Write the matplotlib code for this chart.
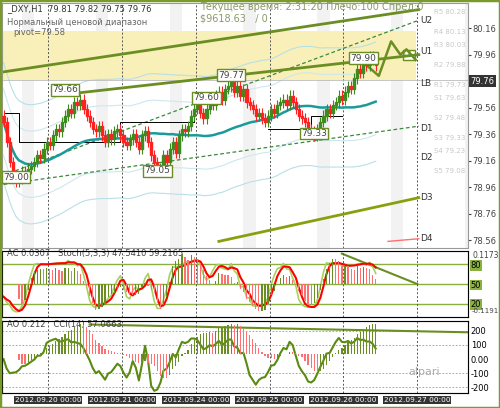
import numpy as np, pandas as pd
import matplotlib
matplotlib.use("Agg")
import matplotlib.pyplot as plt
from matplotlib.patches import Rectangle

closes = [79.45,79.30,79.15,79.05,79.00,79.02,79.08,79.05,79.10,79.12,
          79.15,79.20,79.18,79.25,79.30,79.28,79.35,79.40,79.38,79.45,
          79.50,79.55,79.52,79.60,79.58,79.62,79.55,79.50,79.45,79.40,
          79.38,79.42,79.35,79.30,79.36,79.32,79.38,79.40,79.35,79.30,
          79.28,79.32,79.36,79.30,79.25,79.35,79.38,79.30,79.20,79.15,
          79.08,79.10,79.20,79.15,79.25,79.30,79.22,79.35,79.40,79.38,
          79.42,79.50,79.55,79.58,79.52,79.48,79.55,79.60,79.58,79.65,
          79.68,79.62,79.70,79.72,79.75,79.68,79.72,79.65,79.70,79.60,
          79.58,79.55,79.50,79.52,79.48,79.45,79.50,79.55,79.52,79.58,
          79.60,79.62,79.58,79.65,79.60,79.55,79.50,79.48,79.45,79.40,
          79.38,79.35,79.40,79.45,79.50,79.55,79.52,79.58,79.60,79.65,
          79.62,79.68,79.72,79.70,79.78,79.85,79.82,79.90,79.88,79.95,79.92,79.88]
open0 = 79.50
day_ticks = [14.5, 38.5, 62.5, 86.5, 110.5, 134.5]
day_labels = ["2012.09.20 00:00","2012.09.21 00:00","2012.09.24 00:00",
              "2012.09.25 00:00","2012.09.26 00:00","2012.09.27 00:00"]
price_ticks = [80.16,79.96,79.76,79.56,79.36,79.16,78.96,78.76,78.56]
pivots = [("R5",80.28),("R4",80.13),("R3",80.03),("R2",79.88),("R1",79.73),
          ("S1",79.63),("S2",79.48),("S3",79.33),("S4",79.23),("S5",79.08)]
levels = [("U2",80.22),("U1",79.98),("LB",79.74),("D1",79.40),("D2",79.18),("D3",78.88),("D4",78.57)]
peaks = [(20,79.66,"79.66"),(4,79.00,"79.00"),(50,79.05,"79.05"),(66,79.60,"79.60"),
         (74,79.77,"79.77"),(101,79.33,"79.33"),(117,79.90,"79.90")]

c = np.array(closes); n = len(c); x = np.arange(n)
o = np.concatenate([[open0], c[:-1]])
wick = 0.04
h = np.maximum(o, c) + wick; l = np.minimum(o, c) - wick
s = pd.Series(c)
OLIVE = "#6b8e23"

fig = plt.figure(figsize=(5, 4.08), dpi=100)
fig.patch.set_facecolor("white")
fig.add_artist(Rectangle((0,0),1,1,transform=fig.transFigure,fill=False,ec="#7a9a2a",lw=2.5))
def ax_px(x0, y0, x1, y1):
    return fig.add_axes([x0/500, 1-y1/408, (x1-x0)/500, (y1-y0)/408])
XL = (-0.5, 151)
ax = ax_px(2, 3, 468, 248)
ax.set_xlim(*XL); ax.set_ylim(78.50, 80.35)
for k in range(0, 151, 24):
    ax.axvspan(k+6, k+10, color="#f2f2f2", zorder=0, lw=0)
ax.axhspan(79.77, 80.14, xmin=0, xmax=134.5/151.5, color="#f8f0b8", zorder=0.5, lw=0)
ax.axhline(79.77, color="#bbbbbb", lw=0.6)
ma = s.rolling(40, min_periods=1).mean()
ax.plot(x, ma, color="#1a9a9a", lw=1.8, zorder=3)
for off, col in [(0.45,"#b8e0e8"),(-0.45,"#b8e0e8"),(0.25,"#cce8ee"),(-0.25,"#cce8ee")]:
    ax.plot(x, ma+off, color=col, lw=0.8, zorder=1)
ax.plot([0,135],[79.83,80.30], color=OLIVE, lw=2, zorder=2)
ax.plot([70,135],[78.55,78.88], color="#88a010", lw=2)
ax.plot([125,135],[78.55,78.57], color="#ff7070", lw=1)
ax.plot([0,135],[78.98,79.42], color="#3a8a3a", lw=0.9, ls=(0,(3,2)))
ax.plot([0,135],[79.05,80.22], color="#3a8a3a", lw=0.9, ls=(0,(3,2)))
ax.plot([20,135],[79.66,79.96], color=OLIVE, lw=2, zorder=4)
ax.plot([117,122,126,129,131,134],[79.90,79.80,80.06,79.96,80.00,79.92], color=OLIVE, lw=1.8, zorder=4)
ax.plot([0,5,5,38,38,62,62],[79.52,79.52,79.30,79.30,79.45,79.45,79.58], color="black", lw=0.7)
ax.plot([86,100,100,110],[79.40,79.40,79.50,79.50], color="black", lw=0.7)
for i in range(n):
    col = "#3d8b1e" if c[i] >= o[i] else "#ff2020"
    ax.vlines(i, l[i], h[i], color=col, lw=0.8, zorder=5)
    ax.add_patch(Rectangle((i-0.35, min(o[i],c[i])), 0.7, max(abs(c[i]-o[i]),0.008), color=col, zorder=6))
for px_, py, t in peaks:
    ax.text(px_, py, t, fontsize=6.5, color="#444", ha="center", va="bottom", zorder=8,
            bbox=dict(boxstyle="square,pad=0.15", fc="white", ec=OLIVE, lw=1))
for d in day_ticks:
    ax.axvline(d, color="#555", lw=0.7, ls=(0,(2,2)), zorder=1)
for t, v in levels:
    ax.text(135.5, v, t, fontsize=6.5, va="center", color="#333")
for t, v in pivots:
    ax.text(140, v, f"{t} {v:.2f}", fontsize=5, va="center", color="#c8c8c8")
ax.set_yticks(price_ticks)
ax.set_yticklabels(["" if v == 79.76 else f"{v:.2f}" for v in price_ticks], fontsize=6)
ax.yaxis.tick_right(); ax.set_xticks([])
ax.tick_params(axis="y", length=2, pad=1, colors="#444")
ax.text(151.8, 79.76, "79.76", fontsize=6, color="white", va="center", ha="left",
        bbox=dict(boxstyle="square,pad=0.15", fc="#333", ec="none"), clip_on=False)
ax.text(130, 79.94, "OC", fontsize=5.5, color=OLIVE, bbox=dict(boxstyle="square,pad=0.1", fc="white", ec=OLIVE))
ax.text(1, 80.31, "_DXY,H1  79.81 79.82 79.75 79.76", fontsize=6, color="#333", va="center")
ax.text(1, 80.20, "Нормальный ценовой диапазон", fontsize=6, color="#666", va="center")
ax.text(3, 80.13, "pivot=79.58", fontsize=6, color="#666", va="center")
ax.text(64, 80.32, "Текущее время: 2:31:20 Плечо:100 Спред:0", fontsize=7, color="#8a9a6a", va="center")
ax.text(64, 80.23, "$9618.63   / 0", fontsize=7, color="#8a9a6a", va="center")
for sp in ax.spines.values(): sp.set_color("#999")

med = s
ao = med.rolling(5, min_periods=1).mean() - med.rolling(34, min_periods=1).mean()
ac = ao - ao.rolling(5, min_periods=1).mean()
low5 = pd.Series(l).rolling(5, min_periods=1).min(); high5 = pd.Series(h).rolling(5, min_periods=1).max()
k = 100*(s-low5)/(high5-low5)
k3 = k.rolling(3, min_periods=1).mean(); d3 = k3.rolling(3, min_periods=1).mean()
tp = (pd.Series(h)+pd.Series(l)+s)/3
sma = tp.rolling(14, min_periods=1).mean()
mad = tp.rolling(14, min_periods=1).apply(lambda a: np.mean(np.abs(a-a.mean())))
cci = ((tp-sma)/(0.015*mad.replace(0, np.nan))).fillna(0)

ax2 = ax_px(2, 251, 468, 317); ax2.set_xlim(*XL); ax2.set_ylim(0, 100)
a2 = ax2.twinx(); a2.set_xlim(*XL)
m = max(abs(ac).max(), 1e-6); a2.set_ylim(-m*1.1, m*1.1)
cols = ["#6b8e23" if i == 0 or ac[i] >= ac[i-1] else "#ff7070" for i in range(n)]
a2.bar(x, ac, width=0.4, color=cols)
a2.set_yticks([])
ax2.plot(x, k3, color="#a8d060", lw=1.2, zorder=5)
ax2.plot(x, d3, color="red", lw=1.5, zorder=6)
for lv in (80, 50, 20): ax2.axhline(lv, color="#8ab040", lw=1)
ax2.plot([110, 134.5], [96, 50], color=OLIVE, lw=1.5)
ax2.set_yticks([80, 50, 20]); ax2.yaxis.tick_right()
ax2.set_yticklabels(["80", "50", "20"], fontsize=6)
for tl in ax2.get_yticklabels():
    tl.set_bbox(dict(boxstyle="square,pad=0.1", fc="#8ab040", ec="none"))
ax2.tick_params(axis="y", length=0, pad=2)
ax2.text(152.5, 100, "0.1173", fontsize=5.5, va="top", color="#444", clip_on=False)
ax2.text(152.2, 9, "-0.1191", fontsize=5, va="center", color="#444", clip_on=False)
ax2.text(1, 92, "AC 0.0307   Stoch(5,3,3) 47.5410 59.2165", fontsize=6, color="#444")
ax2.set_xticks([])

ax3 = ax_px(2, 321, 468, 393); ax3.set_xlim(*XL); ax3.set_ylim(-240, 270)
a3 = ax3.twinx(); a3.set_xlim(*XL)
m = max(abs(ao).max(), 1e-6); a3.set_ylim(-m*1.3, m*1.1)
cols = ["#6b8e23" if i == 0 or ao[i] >= ao[i-1] else "#ff7070" for i in range(n)]
a3.bar(x, ao, width=0.4, color=cols); a3.set_yticks([])
ax3.plot(x, cci, color="#5a8a10", lw=1.5, zorder=5)
for lv in (200, 100, -100, -200): ax3.axhline(lv, color="#999", lw=0.6, ls=(0,(2,2)))
ax3.plot([28, 151], [245, 190], color=OLIVE, lw=1.5)
ax3.set_yticks([200, 100, 0, -100, -200]); ax3.yaxis.tick_right()
ax3.set_yticklabels(["200", "100", "0.00", "-100", "-200"], fontsize=6)
ax3.tick_params(axis="y", length=0, pad=2)
ax3.text(1, 225, "AO 0.212   CCI(14) 57.0663", fontsize=6, color="#444")
ax3.text(142, -110, "alpari", fontsize=8, color="#aaa", ha="right")
ax3.set_xticks(day_ticks); ax3.set_xticklabels(day_labels, fontsize=5.3, color="white")
for tl in ax3.get_xticklabels():
    tl.set_bbox(dict(boxstyle="square,pad=0.12", fc="#333", ec="none"))
ax3.tick_params(axis="x", length=0, pad=3)
for a in (ax2, ax3):
    for d in day_ticks: a.axvline(d, color="#555", lw=0.7, ls=(0,(2,2)))
    for sp in a.spines.values(): sp.set_color("#999")
fig.savefig("out.png", dpi=100)
